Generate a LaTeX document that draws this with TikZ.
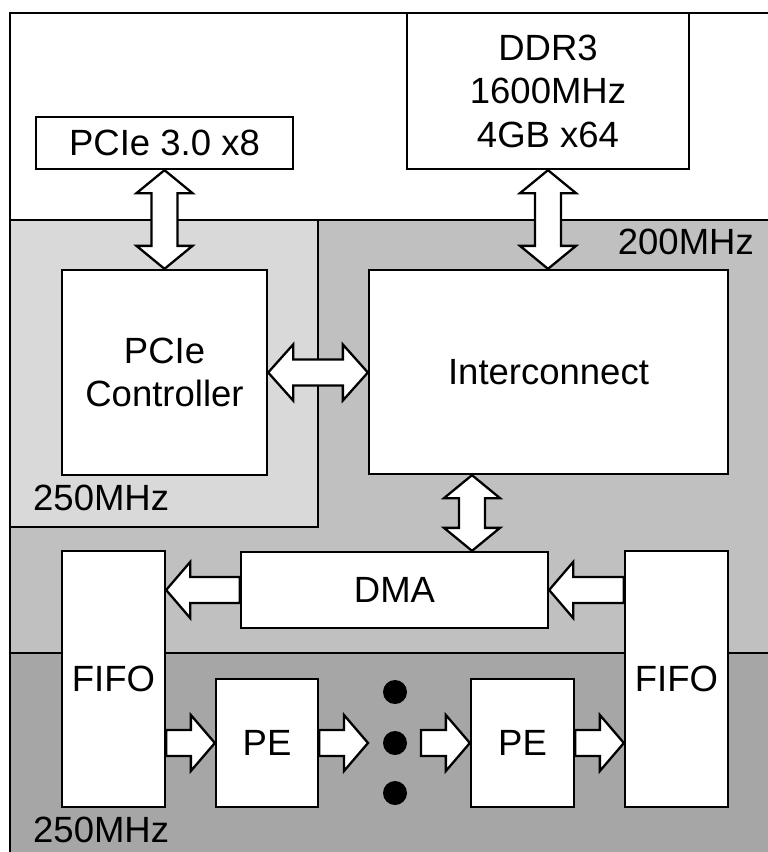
\documentclass[tikz,border=0pt]{standalone}
\usepackage{fontspec}
\setmainfont{Liberation Sans}
\usetikzlibrary{calc}
\definecolor{lightreg}{HTML}{D9D9D9}
\definecolor{midreg}{HTML}{C0C0C0}
\definecolor{darkreg}{HTML}{A6A6A6}
\tikzset{
  lw/.style={line width=2.3pt},
  box/.style={lw, draw=black, fill=white, inner sep=0pt, align=center, font=\fontsize{36.5}{43.5}\selectfont},
  lbl/.style={inner sep=0pt, font=\fontsize{36.5}{43.5}\selectfont},
  barrow/.style={lw, draw=black, fill=white, line join=miter},
  region/.style={lw, draw=black},
}
\newcommand{\vdarr}[2]{\draw[barrow] let \p1=(#1), \p2=(#2) in
  (\x1,\y1) -- (\x1+28pt,\y1-23pt) -- (\x1+13pt,\y1-23pt) -- (\x1+13pt,\y2+23pt) -- (\x1+28pt,\y2+23pt) -- (\x1,\y2)
  -- (\x1-28pt,\y2+23pt) -- (\x1-13pt,\y2+23pt) -- (\x1-13pt,\y1-23pt) -- (\x1-28pt,\y1-23pt) -- cycle;}
\newcommand{\hdarr}[2]{\draw[barrow] let \p1=(#1), \p2=(#2) in
  (\x1,\y1) -- (\x1+25pt,\y1+28pt) -- (\x1+25pt,\y1+13pt) -- (\x2-25pt,\y1+13pt) -- (\x2-25pt,\y1+28pt) -- (\x2,\y1)
  -- (\x2-25pt,\y1-28pt) -- (\x2-25pt,\y1-13pt) -- (\x1+25pt,\y1-13pt) -- (\x1+25pt,\y1-28pt) -- cycle;}
% #3 = head length with sign (positive: arrow points right, negative: left)
\newcommand{\harr}[3]{\draw[barrow] let \p1=(#1), \p2=(#2), \n1={#3} in
  (\x1,\y1+13pt) -- ({\x2-\n1},\y1+13pt) -- ({\x2-\n1},\y1+28pt) -- (\x2,\y1)
  -- ({\x2-\n1},\y1-28pt) -- ({\x2-\n1},\y1-13pt) -- (\x1,\y1-13pt) -- cycle;}
\begin{document}
\begin{tikzpicture}[x=1pt,y=-1pt]
\useasboundingbox (0,0) rectangle (768,852);
\clip (0,0) rectangle (768,852);
% regions
\fill[white] (0,0) rectangle (768,852);
\draw[region, fill=darkreg] (10,653) rectangle (790,880);
\draw[region, fill=midreg] (10,220) rectangle (790,653);
\draw[region, fill=lightreg] (10,220) rectangle (318,527);
\draw[region] (790,13) -- (10,13) -- (10,880);
% labels
\node[lbl, anchor=base east] (f200) at (754,254) {200MHz};
\node[lbl, anchor=base west] (f250a) at (33,510) {250MHz};
\node[lbl, anchor=base west] (f250b) at (33,842) {250MHz};
% boxes
\node[box, minimum width=257pt, minimum height=52pt] (pcie) at (164.5,143) {PCIe 3.0 x8};
\node[box, minimum width=282pt, minimum height=156pt] (ddr) at (548,91) {DDR3\\1600MHz\\4GB x64};
\node[box, minimum width=205pt, minimum height=205pt] (ctrl) at (164.5,372.5) {PCIe\\Controller};
\node[box, minimum width=359pt, minimum height=204pt] (ic) at (548.5,372) {Interconnect};
\node[box, minimum width=307pt, minimum height=76pt] (dma) at (394.5,590) {DMA};
\node[box, minimum width=103pt, minimum height=256pt] (ffL) at (113.5,679) {FIFO};
\node[box, minimum width=103pt, minimum height=256pt] (ffR) at (676.5,679) {FIFO};
\node[box, minimum width=102pt, minimum height=128pt] (pe1) at (267,743) {PE};
\node[box, minimum width=103pt, minimum height=128pt] (pe2) at (522.5,743) {PE};
% dots
\fill (395,692) circle (12pt);
\fill (395,743) circle (12pt);
\fill (395,793) circle (12pt);
\coordinate (d1) at (368,743);
\coordinate (d2) at (421,743);
\coordinate (icx) at (472,0);
% arrows
\vdarr{pcie.south}{ctrl.north}
\vdarr{ddr.south}{ic.north}
\hdarr{ctrl.east}{ic.west}
\vdarr{ic.south -| icx}{dma.north -| icx}
\harr{dma.west}{ffL.east |- dma.west}{-24pt}
\harr{ffR.west |- dma.east}{dma.east}{-24pt}
\harr{ffL.east |- pe1.west}{pe1.west}{24pt}
\harr{pe1.east}{d1}{24pt}
\harr{d2}{pe2.west}{24pt}
\harr{pe2.east}{ffR.west |- pe2.east}{24pt}
\end{tikzpicture}
\end{document}
